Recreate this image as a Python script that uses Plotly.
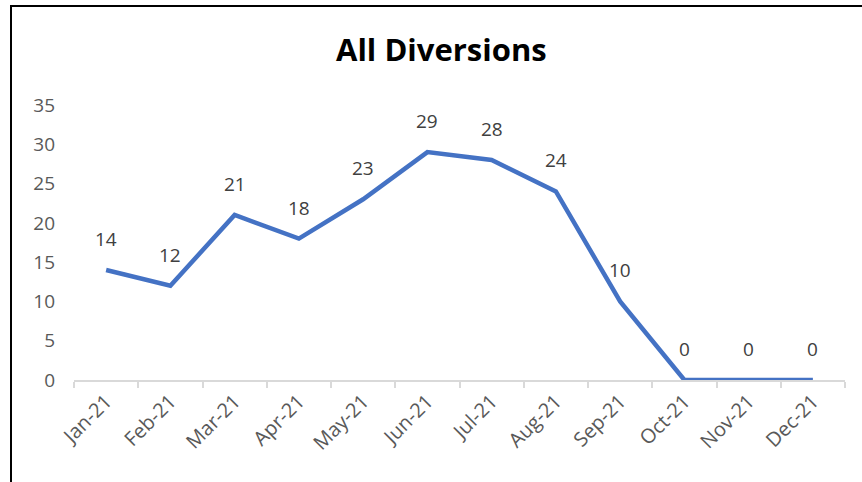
import plotly.graph_objects as go

months = ["Jan-21", "Feb-21", "Mar-21", "Apr-21", "May-21", "Jun-21",
          "Jul-21", "Aug-21", "Sep-21", "Oct-21", "Nov-21", "Dec-21"]
diversions = [14, 12, 21, 18, 23, 29, 28, 24, 10, 0, 0, 0]
y_ticks = [0, 5, 10, 15, 20, 25, 30, 35]

W, H = 862, 482
L, R, T, B = 74, 17, 105, 102
FONT = "Open Sans"

fig = go.Figure()
fig.add_trace(go.Scatter(
    x=months, y=diversions, mode="lines",
    line=dict(color="#4472C4", width=4.5),
    hoverinfo="skip", showlegend=False,
))

for m, v in zip(months, diversions):
    fig.add_annotation(x=m, y=v, text=str(v), showarrow=False,
                       yanchor="middle", yshift=31,
                       font=dict(family=FONT, size=19, color="#404040"))

pw = W - L - R
ph = H - T - B
def px_x(p):
    return (p - L) / pw
def px_y(p):
    return (H - B - p) / ph

fig.add_shape(type="line", xref="paper", yref="paper",
              x0=px_x(11), y0=px_y(5), x1=px_x(11), y1=px_y(H + 5),
              line=dict(color="black", width=2))
fig.add_shape(type="line", xref="paper", yref="paper",
              x0=px_x(10), y0=px_y(6), x1=px_x(W + 5), y1=px_y(6),
              line=dict(color="black", width=2))

fig.update_layout(
    width=W, height=H,
    margin=dict(l=L, r=R, t=T, b=B),
    paper_bgcolor="white", plot_bgcolor="white",
    title=dict(text="<b>All Diversions</b>", x=0.512, xanchor="center",
               y=1 - 50 / H, yanchor="middle", yref="container",
               font=dict(family=FONT, size=31, color="black")),
    xaxis=dict(type="category", range=[-0.5, 11.5], tickson="boundaries",
               ticks="outside", ticklen=6, tickcolor="#d9d9d9", tickwidth=1.5,
               showline=True, linecolor="#d9d9d9", linewidth=1.5,
               showgrid=False, zeroline=False, tickangle=-45,
               tickfont=dict(family=FONT, size=20, color="#595959")),
    yaxis=dict(range=[0, 35], tickvals=y_ticks, showgrid=False,
               zeroline=False, showline=False, ticks="",
               ticklabelstandoff=18,
               tickfont=dict(family=FONT, size=19, color="#595959")),
)

fig.write_html("out.html", config={"displayModeBar": False},
               post_script="document.body.style.margin='0';document.body.style.overflow='hidden';")
